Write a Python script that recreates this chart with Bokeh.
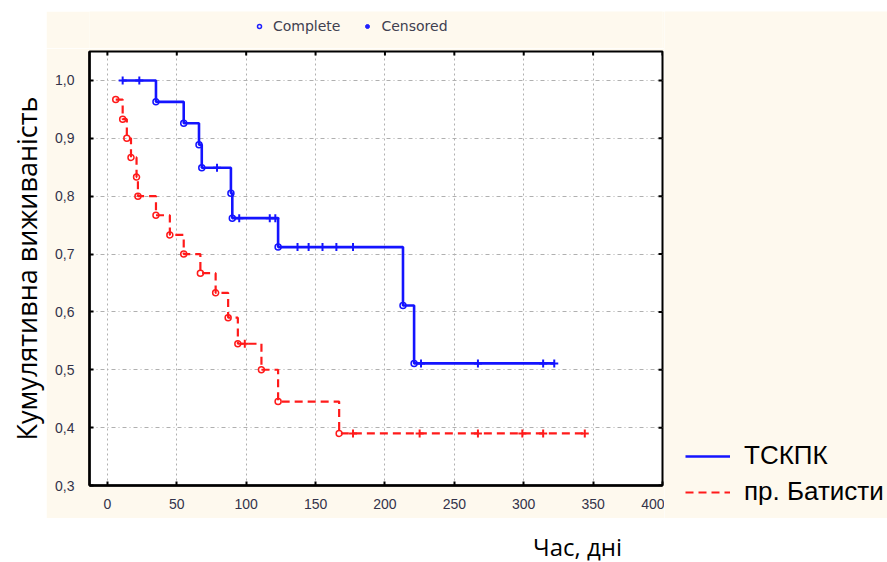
import math
from bokeh.plotting import figure
from bokeh.layouts import column, row
from bokeh.models import (FixedTicker, CustomJSTickFormatter, Range1d,
                          Legend, LegendItem, Label, Spacer)
from bokeh.embed import file_html
from bokeh.resources import INLINE

# ---------------- data ----------------
x_ticks = [0, 50, 100, 150, 200, 250, 300, 350, 400]
y_ticks = [0.3, 0.4, 0.5, 0.6, 0.7, 0.8, 0.9, 1.0]
x_min, x_max = -12.9, 400
y_min, y_max = 0.3, 1.05

series_names = ["ТСКПК", "пр. Батисти"]
marker_names = ["Complete", "Censored"]
y_title = "Кумулятивна виживаність"
x_title = "Час, дні"

# ТСКПК (blue, solid)
tsk_start = 11
tsk_end = 322
tsk_event_t = [35, 55, 66, 68, 89, 90, 123, 213, 221]
tsk_event_s = [0.963, 0.926, 0.889, 0.849, 0.805, 0.762, 0.712, 0.611, 0.511]
tsk_cens_t = [11, 23, 79, 95, 117, 121, 137, 145, 155, 165, 177, 226, 267, 314, 322]

# пр. Батисти (red, dashed)
bat_start = 6
bat_end = 346
bat_event_t = [6, 11, 14, 17, 21, 22, 35, 45, 55, 67, 78, 87, 94, 111, 123, 167]
bat_event_s = [0.967, 0.933, 0.900, 0.867, 0.833, 0.800, 0.767, 0.733, 0.700,
               0.667, 0.633, 0.590, 0.545, 0.500, 0.445, 0.390]
bat_cens_t = [99, 177, 225, 267, 299, 314, 344]


def level_at(t, et, es):
    lv = 1.0
    for a, b in zip(et, es):
        if a <= t:
            lv = b
    return lv


def steps(start, end, et, es):
    xs = [start]
    ys = [level_at(start, et, es)]
    prev = ys[0]
    for a, b in zip(et, es):
        if a > start:
            xs += [a, a]
            ys += [prev, b]
            prev = b
    xs.append(end)
    ys.append(prev)
    return xs, ys


CREAM = "#FEF9EE"
BLUE = "#1414FF"
RED = "#FF1A1A"
LBLUE = "#2020ff"
FW, FH = 573, 434
NAN = [float("nan")]


def blank(w, h, bg):
    f = figure(width=w, height=h, x_range=Range1d(0, w), y_range=Range1d(0, h),
               x_axis_type=None, y_axis_type=None, min_border=0,
               output_backend="svg", toolbar_location=None,
               outline_line_color=None, background_fill_color=bg,
               border_fill_color=bg)
    f.grid.visible = False
    return f


# ---------------- main plot ----------------
p = figure(frame_width=FW, frame_height=FH,
           x_range=Range1d(x_min, x_max), y_range=Range1d(y_min, y_max),
           output_backend="svg", toolbar_location=None,
           min_border_left=43, min_border_right=2,
           min_border_top=3, min_border_bottom=33,
           border_fill_color=CREAM, background_fill_color="white",
           outline_line_color="black", outline_line_width=2)

fmt = CustomJSTickFormatter(code="return tick.toFixed(1).replace('.', ',');")

for ax in (p.xaxis[0], p.yaxis[0]):
    ax.axis_line_width = 2.5
    ax.axis_line_color = "black"
    ax.major_tick_in = 4
    ax.major_tick_out = 0
    ax.major_tick_line_color = "black"
    ax.major_tick_line_width = 2
    ax.minor_tick_line_color = None
    ax.major_label_text_font = "Liberation Sans"
    ax.major_label_text_font_size = "14px"
    ax.major_label_text_color = "#33334a"

p.xaxis.ticker = FixedTicker(ticks=x_ticks)
p.yaxis.ticker = FixedTicker(ticks=y_ticks)
p.yaxis.formatter = fmt
p.xaxis.major_label_standoff = 13
p.yaxis.major_label_standoff = 15

p.xgrid.ticker = FixedTicker(ticks=x_ticks)
p.ygrid.ticker = FixedTicker(ticks=y_ticks)
p.xgrid.grid_line_color = "#b0b0b0"
p.xgrid.grid_line_dash = "2 3"
p.ygrid.grid_line_color = "#b0b0b0"
p.ygrid.grid_line_dash = "4 3 1 3"

# inward tick marks on the top and right edges of the frame
dy = 4 * (y_max - y_min) / FH
dx = 4 * (x_max - x_min) / FW
p.segment(x_ticks, [y_max] * len(x_ticks), x_ticks, [y_max - dy] * len(x_ticks),
          line_color="black", line_width=2)
p.segment([x_max] * len(y_ticks), y_ticks, [x_max - dx] * len(y_ticks), y_ticks,
          line_color="black", line_width=2)

# curves
bx, by = steps(tsk_start, tsk_end, tsk_event_t, tsk_event_s)
rx, ry = steps(bat_start, bat_end, bat_event_t, bat_event_s)
p.line(rx, ry, line_color=RED, line_width=2.2, line_dash="8 5")
p.line(bx, by, line_color=BLUE, line_width=2.6)

# complete (events) -> open circles
p.scatter(bat_event_t, bat_event_s, marker="circle", size=6, fill_color=None,
          line_color=RED, line_width=1.5)
p.scatter(tsk_event_t, tsk_event_s, marker="circle", size=6, fill_color=None,
          line_color=BLUE, line_width=1.5)
# censored -> crosses
p.scatter(bat_cens_t, [level_at(t, bat_event_t, bat_event_s) for t in bat_cens_t],
          marker="cross", size=8, line_color=RED, line_width=2)
p.scatter(tsk_cens_t, [level_at(t, tsk_event_t, tsk_event_s) for t in tsk_cens_t],
          marker="cross", size=8, line_color=BLUE, line_width=2)

# ---------------- top strip: Complete / Censored key ----------------
# (its frame is aligned with the main plot's frame by the column layout)
top = blank(618, 37, CREAM)
d_comp = top.scatter(NAN, NAN, marker="circle", size=5, fill_color=None,
                     line_color=LBLUE, line_width=1.5)
d_cens = top.scatter(NAN, NAN, marker="circle", size=5, fill_color=LBLUE,
                     line_color=LBLUE)
top.add_layout(Legend(items=[LegendItem(label=marker_names[0], renderers=[d_comp]),
                             LegendItem(label=marker_names[1], renderers=[d_cens])],
                      orientation="horizontal", location=(165, 14),
                      glyph_width=10, glyph_height=16, label_standoff=9, spacing=22,
                      padding=0, margin=0, border_line_color=None,
                      background_fill_alpha=0,
                      label_text_font="DejaVu Sans", label_text_font_size="14px",
                      label_text_color="#404050"))

# ---------------- right strip: series legend ----------------
right = blank(223, 507, CREAM)
d_blue = right.line(NAN, NAN, line_color=BLUE, line_width=2.6)
d_red = right.line(NAN, NAN, line_color=RED, line_width=2.2, line_dash="8 5")
right.add_layout(Legend(items=[LegendItem(label=series_names[0], renderers=[d_blue]),
                               LegendItem(label=series_names[1], renderers=[d_red])],
                        location=(21, 11), glyph_width=45, glyph_height=24,
                        label_standoff=14, spacing=5, padding=0, margin=0,
                        border_line_color=None, background_fill_alpha=0,
                        label_text_font="Liberation Sans",
                        label_text_font_size="26px", label_text_color="black"))

# ---------------- left strip: y title ----------------
left = blank(46, 507, "white")
left.add_layout(Label(x=26, y=250, text=y_title, angle=math.pi / 2,
                      text_align="center", text_baseline="middle",
                      text_font="Open Sans", text_font_size="27px",
                      text_color="black"))

# ---------------- bottom strip: x title ----------------
bottom = blank(887, 44, "white")
bottom.add_layout(Label(x=577, y=16, text=x_title, text_align="center",
                        text_baseline="middle", text_font="Open Sans",
                        text_font_size="24px", text_color="black"))

layout = column(Spacer(width=887, height=11),
                row(left, column(top, p), right),
                bottom)

open("out.html", "w").write(file_html(layout, INLINE))
